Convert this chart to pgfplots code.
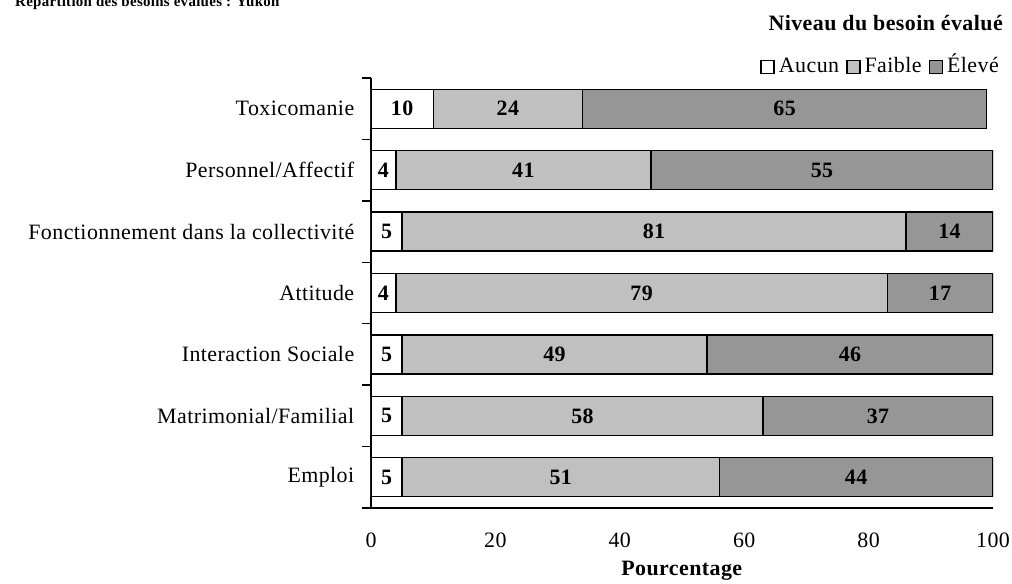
\documentclass[border=0pt]{standalone}
\usepackage{fontspec}
\setmainfont{Liberation Serif}[LetterSpace=2]
\usepackage{pgfplots}
\pgfplotsset{compat=1.18}
\usepackage{pgfplotstable}
\definecolor{faible}{HTML}{C0C0C0}
\definecolor{eleve}{HTML}{969696}
\pgfplotstableread{
y  aucun faible eleve
6  10    24     65
5  4     41     55
4  5     81     14
3  4     79     17
2  5     49     46
1  5     58     37
0  5     51     44
}\data
\newcommand{\fs}{\fontsize{22}{26}\selectfont}
\begin{document}
\begin{tikzpicture}
\useasboundingbox (-371bp,-76bp) rectangle (641bp,508bp);
\begin{axis}[
  at={(0,0)}, anchor=south west,
  scale only axis, width=622bp, height=430bp,
  xbar stacked, bar width=39bp,
  xmin=0, xmax=100, ymin=-0.5, ymax=6.5,
  axis x line*=bottom, axis y line*=left,
  axis line style={line width=1.3bp, -},
  xtick={0,20,...,100},
  xtick style={draw=none},
  ytick={0,...,6},
  yticklabels={Emploi,Matrimonial/Familial,Interaction Sociale,Attitude,Fonctionnement dans la collectivité,Personnel/Affectif,Toxicomanie},
  major y tick style={draw=none},
  minor ytick={-0.5,0.5,...,6.5},
  minor tick length=9bp,
  minor y tick style={line width=1.3bp, black},
  tick align=outside,
  /pgf/number format/assume math mode=true,
  ticklabel style={font=\fs},
  xticklabel style={anchor=center, yshift=-28bp},
  yticklabel style={anchor=east, xshift=-9bp},
  xlabel={\textbf{Pourcentage}},
  xlabel style={font=\fs, at={(axis description cs:0.5,0)}, anchor=center, yshift=-63bp},
  legend style={at={(1.016,1.024)}, anchor=east, draw=none, fill=none, font=\fs,
    nodes={text height=0.72em, text depth=0.2em, inner sep=1bp},
    legend columns=3,
    /tikz/every odd column/.append style={column sep=3bp},
    /tikz/every even column/.append style={column sep=6bp}},
  legend image code/.code={\draw[#1, line width=1.5bp] (0bp,-3bp) rectangle (13bp,10bp);},
  every axis plot/.append style={draw=black, line width=1.3bp},
]
\addplot[fill=white] table[x=aucun, y=y]{\data};
\addplot[fill=faible] table[x=faible, y=y]{\data};
\addplot[fill=eleve] table[x=eleve, y=y]{\data};
\legend{Aucun, Faible, Élevé}
\end{axis}
\begin{axis}[
  at={(0,0)}, anchor=south west,
  scale only axis, width=622bp, height=430bp,
  xmin=0, xmax=100, ymin=-0.5, ymax=6.5,
  hide axis,
  nodes near coords,
  point meta=explicit symbolic,
  every node near coord/.append style={anchor=center, font=\fs\bfseries},
]
\addplot[draw=none, mark=none] table[x expr=\thisrow{aucun}/2, y=y, meta=aucun]{\data};
\addplot[draw=none, mark=none] table[x expr=\thisrow{aucun}+\thisrow{faible}/2, y=y, meta=faible]{\data};
\addplot[draw=none, mark=none] table[x expr=\thisrow{aucun}+\thisrow{faible}+\thisrow{eleve}/2, y=y, meta=eleve]{\data};
\end{axis}
\node[anchor=base east, font=\fs\bfseries, inner sep=0pt] at (632bp,477bp) {Niveau du besoin évalué};
\node[anchor=base west, font=\fontsize{15}{18}\selectfont\bfseries, inner sep=0pt] at (-356bp,501bp) {Répartition des besoins évalués : Yukon};
\end{tikzpicture}
\end{document}
